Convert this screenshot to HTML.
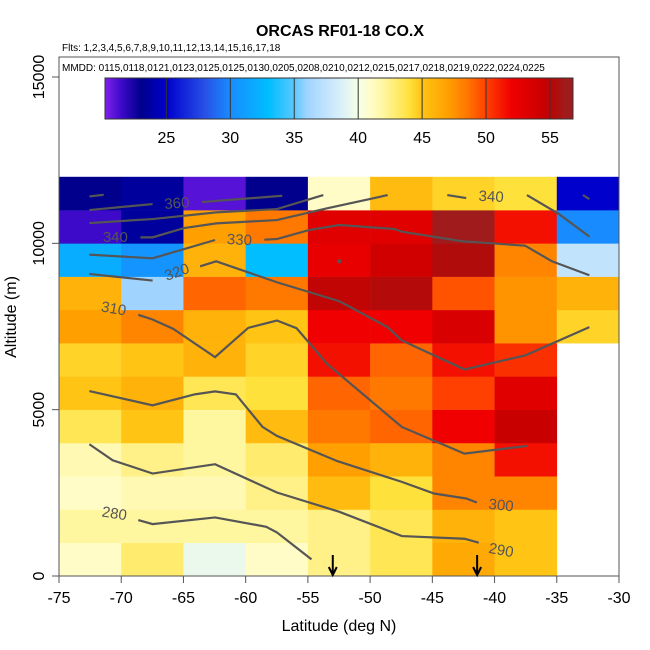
<!DOCTYPE html>
<html><head><meta charset="utf-8"><style>
body{margin:0;background:#fff;}
svg{display:block;font-family:"Liberation Sans",sans-serif;}
</style></head><body>
<svg id="chart" width="650" height="650" viewBox="0 0 650 650">
<text x="340" y="36" text-anchor="middle" font-size="16" font-weight="bold">ORCAS RF01-18 CO.X</text>
<text x="62" y="51" font-size="10">Flts: 1,2,3,4,5,6,7,8,9,10,11,12,13,14,15,16,17,18</text>
<text x="62" y="71" font-size="10">MMDD: 0115,0118,0121,0123,0125,0125,0130,0205,0208,0210,0212,0215,0217,0218,0219,0222,0224,0225</text>
<g id="cells"></g>
<g id="contours"></g>
<g id="axes"></g>
<g id="cbar"></g>
</svg>
<script>
const latBins = [-75,-70,-65,-60,-55,-50,-45,-40,-35];
const altBins = [0,1000,2000,3000,4000,5000,6000,7000,8000,9000,10000,11000];
// rows: bottom (0-1km) to top (11-12km); columns -75..-35
const row0  = [41,43,39.5,41,42.5,43.5,46.5,45,null];
const row1  = [42,42,42,42,42.5,43.5,46,45,null];
const row2  = [41,41.5,41.5,42.5,45.5,44,48,48,null];
const row3  = [41.5,42.5,42,43,47,46,48,51.5,null];
const row4  = [43.5,45,42,45.5,48.5,49,52,54.5,null];
const row5  = [45,46,43.5,44,49,48.5,50,53,null];
const row6  = [44.5,45,46,44.5,51.5,49,51.5,50.5,null];
const row7  = [47,48,46,45,52,52,53.5,47.5,44.5];
const row8  = [46,36,49,48.5,54.8,55.3,49.5,47.5,46];
const row9  = [32,30.5,46,33,52.5,54,55.5,48,37.5];
const row10 = [21.5,23.5,47,48.5,53,53,56.2,51.5,30];
const row11 = [23,23.5,21,23,41,45.5,44.5,44,25];
const grid = [row0,row1,row2,row3,row4,row5,row6,row7,row8,row9,row10,row11];

const cbarTicks = [25,30,35,40,45,50,55];
const xTicks = [-75,-70,-65,-60,-55,-50,-45,-40,-35,-30];
const yTicks = [0,5000,10000,15000];
const arrowLats = [-53,-41.4];

// contour lines: [lat, alt(km)]
const c360 = [[-72.56,11.0],[-67.48,11.18]];
const c360b = [[-63.52,11.24],[-57.06,11.43]];
const c360c = [[-72.56,11.41],[-71.41,11.46]];
const c340a = [[-72.56,10.61],[-67.48,10.73],[-62.37,10.93],[-57.49,11.03],[-53.76,11.45]];
const c340b = [[-68.46,10.18],[-67.48,10.18],[-64.95,10.46],[-62.37,10.6],[-57.49,10.7],[-53.5,11.05],[-48.59,11.45]];
const c340c = [[-43.8,11.45],[-42.28,11.36]];
const c340d = [[-37.4,11.45],[-34.82,10.88],[-32.38,10.2]];
const c340e = [[-32.9,11.45],[-32.38,11.33]];
const c330a = [[-72.56,9.66],[-67.48,9.55],[-62.46,10.1]];
const c330b = [[-58.5,10.11],[-57.49,10.13],[-54.91,10.4],[-52.47,10.55],[-48.02,10.43],[-47.45,10.35],[-42.57,10.06],[-37.54,9.93],[-35.39,9.46],[-32.38,9.04]];
const c320a = [[-72.56,9.08],[-67.48,8.88]];
const c320b = [[-63.66,9.31],[-62.37,9.46],[-57.49,8.83],[-52.47,8.26],[-48.59,7.48],[-47.45,7.08],[-42.42,6.21],[-37.54,6.63],[-32.38,7.48]];
const c310 = [[-68.63,7.85],[-67.48,7.71],[-65.82,7.43],[-62.46,6.58],[-59.79,7.46],[-57.49,7.68],[-55.91,7.45],[-53.47,6.38],[-47.45,4.48],[-42.42,3.68],[-37.4,3.91]];
const c300 = [[-72.56,5.56],[-67.48,5.13],[-64.09,5.46],[-62.46,5.55],[-60.79,5.46],[-58.64,4.48],[-57.49,4.21],[-52.61,3.45],[-47.45,2.83],[-44.86,2.48],[-42.28,2.33],[-41.42,2.21]];
const c290 = [[-72.56,3.96],[-70.69,3.48],[-67.48,3.08],[-62.46,3.36],[-57.49,2.51],[-52.47,1.93],[-47.45,1.2],[-42.42,1.12],[-41.27,1.0]];
const c280 = [[-68.63,1.68],[-67.48,1.56],[-62.46,1.76],[-58.35,1.48],[-57.49,1.31],[-54.71,0.5]];
const contourLines = [c360,c360b,c360c,c340a,c340b,c340c,c340d,c340e,c330a,c330b,c320a,c320b,c310,c300,c290,c280];
const labelText = ["360","340","330","340","320","310","300","290","280"];
const labelPos = [[-65.53,11.21],[-70.47,10.19],[-60.5,10.11],[-40.27,11.41],[-65.53,9.14],[-70.6,8.04],[-39.47,2.13],[-39.47,0.78],[-70.55,1.88]];
const labelRot = [-4,0,3,3,-20,10,6,10,9];

const X = lat => 59 + (lat + 75) * 560 / 45;
const Y = alt => 576 - alt * 499 / 15000;
const NS = "http://www.w3.org/2000/svg";
function mk(tag, attrs, parent){const e=document.createElementNS(NS,tag);for(const k in attrs)e.setAttribute(k,attrs[k]);parent.appendChild(e);return e;}

const stops = [[20.2,[128,32,240]],[21.5,[60,10,200]],[23,[0,0,140]],[25,[0,0,205]],[28,[40,80,230]],[30,[24,140,255]],[33,[0,190,255]],[35,[90,200,255]],[36,[160,212,255]],[38.5,[215,238,250]],[40,[245,255,230]],[41,[255,252,200]],[42,[255,246,160]],[44,[255,225,60]],[45,[255,196,20]],[47,[255,160,0]],[48.5,[255,120,0]],[50,[255,64,0]],[52,[240,0,0]],[54.5,[200,0,0]],[55.5,[176,12,12]],[56.2,[160,28,28]],[57,[160,28,28]]];
function col(v){
  if(v<=stops[0][0]) return `rgb(${stops[0][1]})`;
  for(let i=1;i<stops.length;i++){
    if(v<=stops[i][0]){const a=stops[i-1],b=stops[i];const t=(v-a[0])/(b[0]-a[0]);
      const c=a[1].map((x,j)=>Math.round(x+(b[1][j]-x)*t));return `rgb(${c})`;}
  }
  return `rgb(${stops[stops.length-1][1]})`;
}

const cells=document.getElementById('cells');
grid.forEach((row,ri)=>row.forEach((v,ci)=>{
  if(v===null) return;
  const x0=X(latBins[ci]), x1=X(latBins[ci]+5), y0=Y(altBins[ri]+1000), y1=Y(altBins[ri]);
  const r=mk('rect',{x:x0,y:y0,width:x1-x0+0.3,height:y1-y0+0.3,fill:col(v)},cells);
  
  
}));

const cg=document.getElementById('contours');
contourLines.forEach(line=>{
  const p=mk('polyline',{points:line.map(q=>X(q[0])+','+Y(q[1]*1000)).join(' '),fill:'none',stroke:'#555','stroke-width':2.2},cg);
  
  
});
labelText.forEach((t,i)=>{
  const x=X(labelPos[i][0]), y=Y(labelPos[i][1]*1000);
  const e=mk('text',{x:x,y:y+5,'text-anchor':'middle','font-size':15,fill:'#555',transform:`rotate(${labelRot[i]} ${x} ${y})`},cg);
  e.textContent=t;
  
  
});
mk('circle',{cx:X(-52.47),cy:Y(9460),r:2,fill:'#555'},cg);

const ax=document.getElementById('axes');
mk('rect',{x:59,y:57,width:560,height:519,fill:'none',stroke:'#555','stroke-width':1},ax);
xTicks.forEach(t=>{
  mk('line',{x1:X(t),y1:576,x2:X(t),y2:583,stroke:'#555'},ax);
  const e=mk('text',{x:X(t),y:603,'text-anchor':'middle','font-size':16},ax);
  e.textContent=t;
  
  
});
yTicks.forEach(t=>{
  mk('line',{x1:52,y1:Y(t),x2:59,y2:Y(t),stroke:'#555'},ax);
  const e=mk('text',{x:44,y:Y(t),'text-anchor':'middle','font-size':16,transform:`rotate(-90 44 ${Y(t)})`},ax);
  e.textContent=t;
  
  
});
const xt=mk('text',{x:339,y:631,'text-anchor':'middle','font-size':16},ax);xt.textContent='Latitude (deg N)';


const yt=mk('text',{x:16,y:317,'text-anchor':'middle','font-size':16,transform:'rotate(-90 16 317)'},ax);yt.textContent='Altitude (m)';


arrowLats.forEach(a=>{
  const x=X(a);
  const g=mk('g',{},ax);
  
  
  mk('line',{x1:x,y1:555,x2:x,y2:575,stroke:'#000','stroke-width':2},g);
  mk('polyline',{points:`${x-4},567 ${x},575 ${x+4},567`,fill:'none',stroke:'#000','stroke-width':2},g);
});

const cb=document.getElementById('cbar');
const C0=20.2,C1=56.8,CX0=105,CX1=573;
const CX=v=>CX0+(v-C0)*(CX1-CX0)/(C1-C0);
for(let px=CX0;px<CX1;px+=1){
  const v=C0+(px-CX0+0.5)*(C1-C0)/(CX1-CX0);
  mk('rect',{x:px,y:78,width:1.2,height:41,fill:col(v)},cb);
}
mk('rect',{x:CX0,y:78,width:CX1-CX0,height:41,fill:'none',stroke:'#333'},cb);
cbarTicks.forEach(t=>{
  mk('line',{x1:CX(t),y1:78,x2:CX(t),y2:119,stroke:'#333'},cb);
  const e=mk('text',{x:CX(t),y:143,'text-anchor':'middle','font-size':16},cb);
  e.textContent=t;
  
  
});
</script>
</body></html>
